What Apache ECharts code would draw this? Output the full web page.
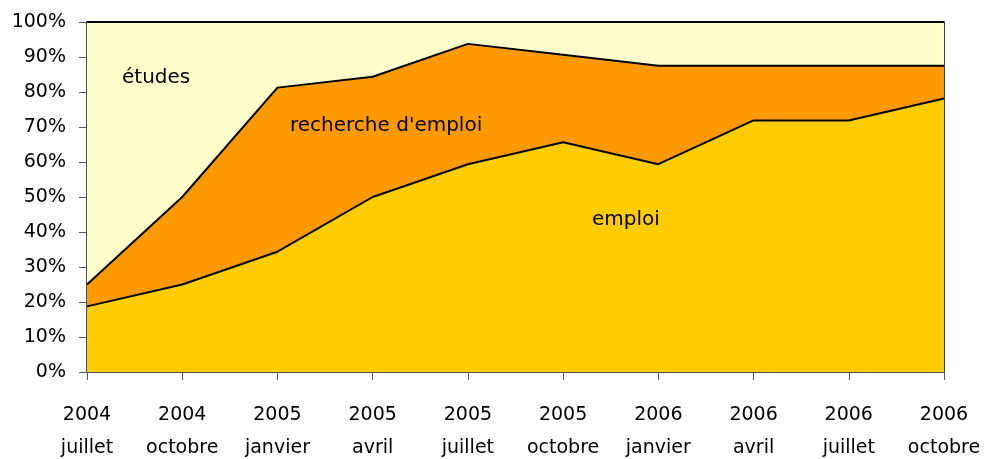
<!DOCTYPE html>
<html>
<head>
<meta charset="utf-8">
<script src="https://cdn.jsdelivr.net/npm/echarts@6/dist/echarts.min.js"></script>
<style>
  html, body { margin: 0; padding: 0; background: #fff; }
  #chart { width: 988px; height: 459px; }
</style>
</head>
<body>
<div id="chart"></div>
<script>
// categories (année + mois)
var periodes = ['2004\njuillet', '2004\noctobre', '2005\njanvier', '2005\navril', '2005\njuillet',
                '2005\noctobre', '2006\njanvier', '2006\navril', '2006\njuillet', '2006\noctobre'];

// parts en %, empilées
var emploi    = [18.75, 25, 34.375, 50, 59.375, 65.625, 59.375, 71.875, 71.875, 78.125];
var recherche = [6.25, 25, 46.875, 34.375, 34.375, 25, 28.125, 15.625, 15.625, 9.375];
var etudes    = [75, 50, 18.75, 15.625, 6.25, 9.375, 12.5, 12.5, 12.5, 12.5];

var yTicks = [0, 10, 20, 30, 40, 50, 60, 70, 80, 90, 100];

var police = 'DejaVu Sans';

var chart = echarts.init(document.getElementById('chart'));

function couche(nom, valeurs, couleur) {
    return {
        name: nom,
        type: 'line',
        stack: 'total',
        data: valeurs,
        symbol: 'none',
        lineStyle: { color: '#000', width: 2 },
        areaStyle: { color: couleur, opacity: 1 },
        itemStyle: { color: couleur },
        animation: false
    };
}

var option = {
    animation: false,
    grid: {
        left: 87, right: 44, top: 22, bottom: 87,
        outerBoundsMode: 'none',
        containLabel: false,
        show: true, borderColor: '#000', borderWidth: 1.5, backgroundColor: 'transparent'
    },
    xAxis: {
        type: 'category',
        data: periodes,
        boundaryGap: false,
        axisLine: { lineStyle: { color: '#555', width: 1.5 } },
        axisTick: { show: true, length: 8, lineStyle: { color: '#555' } },
        axisLabel: {
            interval: 0, color: '#000', fontFamily: police, fontSize: 19,
            lineHeight: 33, margin: 27
        },
        splitLine: { show: false }
    },
    yAxis: {
        type: 'value',
        min: 0, max: 100, interval: 10,
        axisLine: { show: true, lineStyle: { color: '#555', width: 1.5 } },
        axisTick: { show: true, length: 8, lineStyle: { color: '#555' } },
        axisLabel: {
            color: '#000', fontFamily: police, fontSize: 19, margin: 21,
            formatter: function (v) { return yTicks.indexOf(v) >= 0 ? v + '%' : ''; }
        },
        splitLine: { show: false }
    },
    series: [
        couche('emploi', emploi, '#FFCC00'),
        couche("recherche d'emploi", recherche, '#FF9900'),
        couche('études', etudes, '#FFFFCC')
    ],
    graphic: [
        { type: 'text', left: 122, top: 68, z: 100,
          style: { text: 'études', font: '20px "DejaVu Sans"', fill: '#000' } },
        { type: 'text', left: 290, top: 116, z: 100,
          style: { text: "recherche d'emploi", font: '20px "DejaVu Sans"', fill: '#000' } },
        { type: 'text', left: 592, top: 210, z: 100,
          style: { text: 'emploi', font: '20px "DejaVu Sans"', fill: '#000' } }
    ]
};

chart.setOption(option);
</script>
</body>
</html>
